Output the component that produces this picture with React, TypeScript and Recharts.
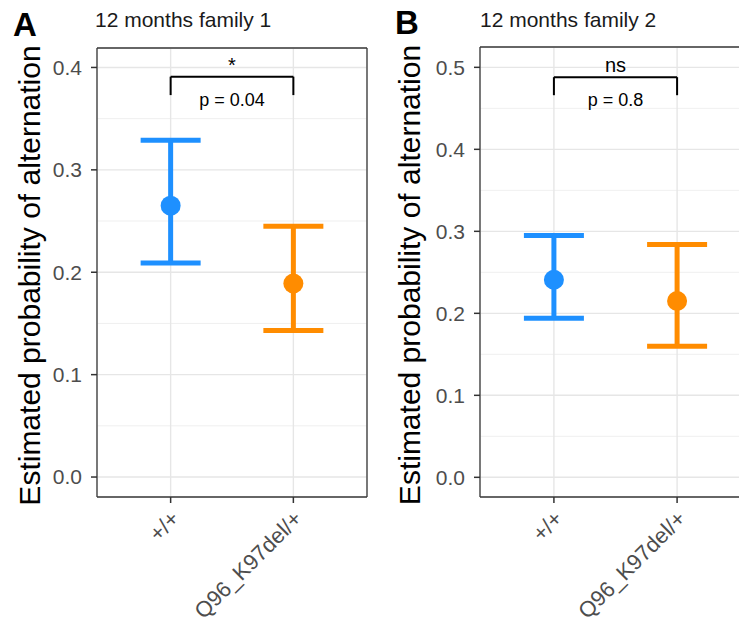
import React from "react";
import { ComposedChart, Line, ErrorBar, XAxis, YAxis, CartesianGrid, ReferenceLine } from "recharts";

const FONT = "'Liberation Sans', Arial, Helvetica, sans-serif";

const genotypes = ["+/+", "Q96_K97del/+"];
const colors = ["#1E90FF", "#FF8C00"];

// 12 months family 1
const fam1Mean = [0.265, 0.189];
const fam1Lower = [0.209, 0.143];
const fam1Upper = [0.329, 0.245];
const fam1Ticks = [0, 0.1, 0.2, 0.3, 0.4];
const fam1Minor = [0.05, 0.15, 0.25, 0.35];
const fam1Bracket = [0.391, 0.373];

// 12 months family 2
const fam2Mean = [0.241, 0.215];
const fam2Lower = [0.194, 0.16];
const fam2Upper = [0.295, 0.284];
const fam2Ticks = [0, 0.1, 0.2, 0.3, 0.4, 0.5];
const fam2Minor = [0.05, 0.15, 0.25, 0.35, 0.45];
const fam2Bracket = [0.488, 0.466];

const XTick = (props: any) => {
  const { x, y, payload } = props;
  const ax = x + 10;
  const ay = y + 15;
  return (
    <text x={ax} y={ay} transform={`rotate(-45, ${ax}, ${ay})`} textAnchor="end" fontSize={22} fill="#4d4d4d" fontFamily={FONT}>
      {payload.value}
    </text>
  );
};

const YLabel = (props: any) => {
  const vb = props.viewBox || { x: 0, y: 0, height: 0 };
  const cx = vb.x + 40;
  const cy = vb.y + vb.height / 2 + 3;
  return (
    <text x={cx} y={cy} transform={`rotate(-90, ${cx}, ${cy})`} textAnchor="middle" fontSize={30} fill="#000" fontFamily={FONT}>
      Estimated probability of alternation
    </text>
  );
};

const BracketText = (props: any) => {
  const vb = props.viewBox || { x: 0, y: 0, width: 0 };
  const cx = vb.x + vb.width / 2;
  return (
    <g fontFamily={FONT} fill="#000">
      <text x={cx} y={vb.y - 5} textAnchor="middle" fontSize={20}>{props.above}</text>
      <text x={cx} y={vb.y + 29} textAnchor="middle" fontSize={18}>{props.below}</text>
    </g>
  );
};

function Panel(props: any) {
  const { left, width, yw, mTop, mRight, domain, ticks, minor, mean, lower, upper, bracket, above, below } = props;
  const rows = genotypes.map((g, i) => {
    const row: any = { g };
    genotypes.forEach((_, j) => {
      row[`s${j}`] = i === j ? mean[i] : null;
      row[`e${j}`] = i === j ? [mean[i] - lower[i], upper[i] - mean[i]] : undefined;
    });
    return row;
  });
  const plotW = width - yw - mRight;
  // ggplot discrete axis: 0.6 units of expansion on each side of 2 categories
  const pad = (plotW * 0.6) / 2.2;
  const border = { stroke: "#3a3a3a", strokeWidth: 1.3 };
  const bracketLine = { stroke: "#000", strokeWidth: 2 };

  return (
    <div style={{ position: "absolute", left, top: 0 }}>
      <ComposedChart width={width} height={631} data={rows} margin={{ top: mTop - 1, right: mRight - 1, bottom: 0, left: 0 }}>
        <CartesianGrid stroke="#ebebeb" strokeWidth={0.8} vertical={false} horizontalValues={minor} />
        <CartesianGrid stroke="#e6e6e6" strokeWidth={1.4} />
        <XAxis
          dataKey="g"
          type="category"
          scale="point"
          interval={0}
          padding={{ left: pad, right: pad }}
          height={134}
          tickSize={6}
          tickLine={{ stroke: "#333", strokeWidth: 1.5 }}
          axisLine={border}
          tick={<XTick />}
        />
        <XAxis xAxisId="top" orientation="top" dataKey="g" type="category" scale="point" height={1} tick={false} tickLine={false} axisLine={border} />
        <YAxis
          type="number"
          domain={domain}
          allowDataOverflow
          ticks={ticks}
          interval={0}
          tickFormatter={(v: number) => v.toFixed(1)}
          width={yw}
          tickSize={6}
          tickMargin={9}
          tick={{ fill: "#4d4d4d", fontSize: 21, fontFamily: FONT }}
          tickLine={{ stroke: "#333", strokeWidth: 1.5 }}
          axisLine={border}
          label={<YLabel />}
        />
        <YAxis yAxisId="r" orientation="right" type="number" domain={domain} width={1} tick={false} tickLine={false} axisLine={border} />
        {genotypes.map((_, j) => (
          <Line
            key={j}
            dataKey={`s${j}`}
            stroke="none"
            isAnimationActive={false}
            activeDot={false}
            dot={{ r: 10, fill: colors[j], stroke: "none" }}
          >
            <ErrorBar dataKey={`e${j}`} direction="y" width={30} stroke={colors[j]} strokeWidth={5} isAnimationActive={false} />
          </Line>
        ))}
        <ReferenceLine
          segment={[{ x: genotypes[0], y: bracket[0] }, { x: genotypes[1], y: bracket[0] }]}
          {...bracketLine}
          label={<BracketText above={above} below={below} />}
        />
        <ReferenceLine segment={[{ x: genotypes[0], y: bracket[0] }, { x: genotypes[0], y: bracket[1] }]} {...bracketLine} />
        <ReferenceLine segment={[{ x: genotypes[1], y: bracket[0] }, { x: genotypes[1], y: bracket[1] }]} {...bracketLine} />
      </ComposedChart>
    </div>
  );
}

export default function App() {
  return (
    <div style={{ position: "absolute", left: 0, top: 0, width: 739, height: 631, overflow: "hidden", background: "#fff" }}>
      <Panel
        left={0}
        width={380}
        yw={97}
        mTop={48}
        mRight={13}
        domain={[-0.0195, 0.419]}
        ticks={fam1Ticks}
        minor={fam1Minor}
        mean={fam1Mean}
        lower={fam1Lower}
        upper={fam1Upper}
        bracket={fam1Bracket}
        above="*"
        below="p = 0.04"
      />
      <Panel
        left={380}
        width={380}
        yw={100}
        mTop={47}
        mRight={9}
        domain={[-0.024, 0.5248]}
        ticks={fam2Ticks}
        minor={fam2Minor}
        mean={fam2Mean}
        lower={fam2Lower}
        upper={fam2Upper}
        bracket={fam2Bracket}
        above="ns"
        below="p = 0.8"
      />
      <svg width={739} height={631} style={{ position: "absolute", left: 0, top: 0, pointerEvents: "none" }}>
        <g fontFamily={FONT}>
          <text x={13} y={36} fontSize={33} fontWeight="bold" fill="#000">A</text>
          <text x={395} y={34} fontSize={33} fontWeight="bold" fill="#000">B</text>
          <text x={95} y={27} fontSize={21} fill="#1a1a1a">12 months family 1</text>
          <text x={480} y={27} fontSize={21} fill="#1a1a1a">12 months family 2</text>
        </g>
      </svg>
    </div>
  );
}
